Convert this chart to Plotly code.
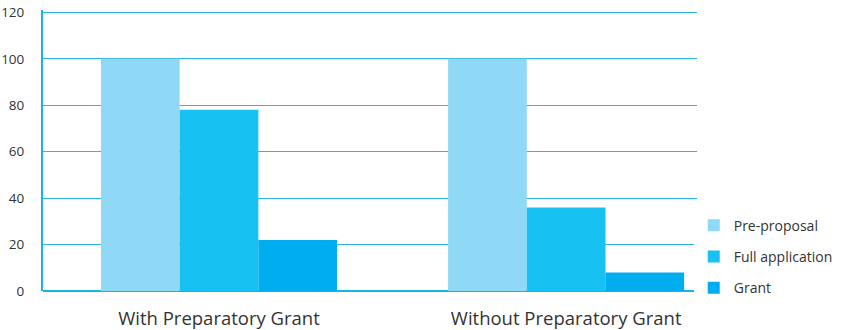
import plotly.graph_objects as go

categories = ["With Preparatory Grant", "Without Preparatory Grant"]
series_names = ["Pre-proposal", "Full application", "Grant"]
pre_proposal = [100, 100]
full_application = [78, 36]
grant = [22, 8]
y_ticks = [0, 20, 40, 60, 80, 100, 120]

colors = ["#8FD8F6", "#17C2F3", "#00AEEF"]
values = [pre_proposal, full_application, grant]

fig = go.Figure()
for name, vals, col in zip(series_names, values, colors):
    fig.add_trace(go.Bar(x=categories, y=vals, name=name, marker=dict(color=col, line=dict(width=0)),
                         legendgroup=name))

fig.update_layout(
    width=843, height=330,
    margin=dict(l=43, r=146, t=10, b=39, autoexpand=False),
    barmode="group", bargap=0.32, bargroupgap=0,
    plot_bgcolor="white", paper_bgcolor="white",
    font=dict(family="Open Sans, Noto Sans, sans-serif", color="#333333"),
    legend=dict(x=0.995, y=-0.045, xanchor="left", yanchor="bottom",
                font=dict(size=14, color="#333333"), tracegroupgap=10,
                itemwidth=30),
    showlegend=True,
)
fig.update_xaxes(range=[-0.507, 1.377], showgrid=False, showline=False, automargin=False,
                 tickfont=dict(size=18.5, color="#333333"), ticks="", ticklabelstandoff=14)
fig.update_yaxes(range=[0, 121], tickvals=y_ticks, showgrid=True, gridcolor="#2BB7E9", gridwidth=1,
                 showline=True, linecolor="#16B4EC", linewidth=2, automargin=False,
                 zeroline=True, zerolinecolor="#16B4EC", zerolinewidth=2,
                 tickfont=dict(size=13.5, color="#333333"), ticks="", ticklabelstandoff=14)

fig.write_html("out.html")
